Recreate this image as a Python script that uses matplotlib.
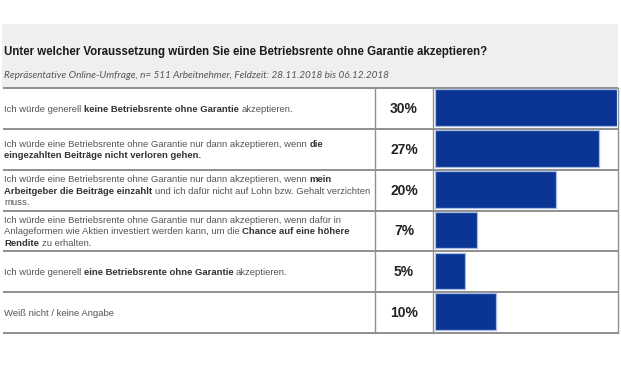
import numpy as np
import matplotlib
matplotlib.use("Agg")
import matplotlib.pyplot as plt
from matplotlib.patches import Rectangle

# Daten
title = "Unter welcher Voraussetzung würden Sie eine Betriebsrente ohne Garantie akzeptieren?"
subtitle = "Repräsentative Online-Umfrage, n= 511 Arbeitnehmer, Feldzeit: 28.11.2018 bis 06.12.2018"

# Antworttexte: Zeilen aus (Text, fett)-Stücken
answers = [
    [[("Ich würde generell", False), ("keine Betriebsrente ohne Garantie", True), ("akzeptieren.", False)]],
    [[("Ich würde eine Betriebsrente ohne Garantie nur dann akzeptieren, wenn", False), ("die", True)],
     [("eingezahlten Beiträge nicht verloren gehen.", True)]],
    [[("Ich würde eine Betriebsrente ohne Garantie nur dann akzeptieren, wenn", False), ("mein", True)],
     [("Arbeitgeber die Beiträge einzahlt", True), ("und ich dafür nicht auf Lohn bzw. Gehalt verzichten", False)],
     [("muss.", False)]],
    [[("Ich würde eine Betriebsrente ohne Garantie nur dann akzeptieren, wenn dafür in", False)],
     [("Anlageformen wie Aktien investiert werden kann, um die", False), ("Chance auf eine höhere", True)],
     [("Rendite", True), ("zu erhalten.", False)]],
    [[("Ich würde generell", False), ("eine Betriebsrente ohne Garantie", True), ("akzeptieren.", False)]],
    [[("Weiß nicht / keine Angabe", False)]],
]
values = [30, 27, 20, 7, 5, 10]

W, H = 621, 383
fig = plt.figure(figsize=(W / 100, H / 100), dpi=100)
fig.patch.set_facecolor("white")

# Hintergrund-Achse in Pixelkoordinaten
ax = fig.add_axes([0, 0, 1, 1])
ax.set_xlim(0, W)
ax.set_ylim(H, 0)
ax.axis("off")

top, bottom = 88, 333
n = len(values)
row_h = (bottom - top) / n
x_left, x_div1, x_div2, x_right = 3, 375, 433, 618

ax.add_patch(Rectangle((2, 24), x_right - 2, top - 24, facecolor="#efefef", edgecolor="none"))
ax.text(4, 52, title, fontsize=8.3, fontweight="bold", family="Liberation Sans",
        color="#1a1a1a", va="center")
ax.text(4, 75, subtitle, fontsize=7.2, style="italic", family="Lato",
        color="#555555", va="center")

line_col = "#8f8f8f"
for i in range(n + 1):
    y = top + i * row_h
    ax.plot([x_left, x_right], [y, y], color=line_col, lw=1.4, solid_capstyle="butt")
for x in (x_div1, x_div2, x_right):
    ax.plot([x, x], [top, bottom], color=line_col, lw=1.0)

fig.canvas.draw()
renderer = fig.canvas.get_renderer()

fs = 6.8


def text_width(s, bold):
    t = ax.text(0, 0, s, fontsize=fs, family="Liberation Sans",
                fontweight="bold" if bold else "normal")
    w = t.get_window_extent(renderer).width
    t.remove()
    return w


space_w = {b: text_width("a a", b) - text_width("aa", b) for b in (False, True)}

line_sp = 11.3
for i, lines in enumerate(answers):
    yc = top + (i + 0.5) * row_h + 1
    y0 = yc - (len(lines) - 1) * line_sp / 2
    for j, segs in enumerate(lines):
        x = 4
        for k, (s, bold) in enumerate(segs):
            if k > 0:
                x += space_w[bold]
            t = ax.text(x, y0 + j * line_sp, s, fontsize=fs, family="Liberation Sans",
                        fontweight="bold" if bold else "normal",
                        color="#333333" if bold else "#555555", va="center")
            x += t.get_window_extent(renderer).width

for i, v in enumerate(values):
    ax.text((x_div1 + x_div2) / 2, top + (i + 0.5) * row_h + 0.5, f"{v}%", fontsize=10,
            fontweight="bold", family="Liberation Sans", color="#222222",
            ha="center", va="center")

# Balken-Achse
bx0, bx1 = 435, 617
bax = fig.add_axes([bx0 / W, 1 - bottom / H, (bx1 - bx0) / W, (bottom - top) / H])
bax.set_xlim(0, max(values))
bax.set_ylim(n, 0)
bax.axis("off")
bax.barh(np.arange(n) + 0.48, values, height=0.9, color="#0a3594",
         edgecolor="#a9bde3", linewidth=0.9)

fig.savefig("out.png", dpi=100)
